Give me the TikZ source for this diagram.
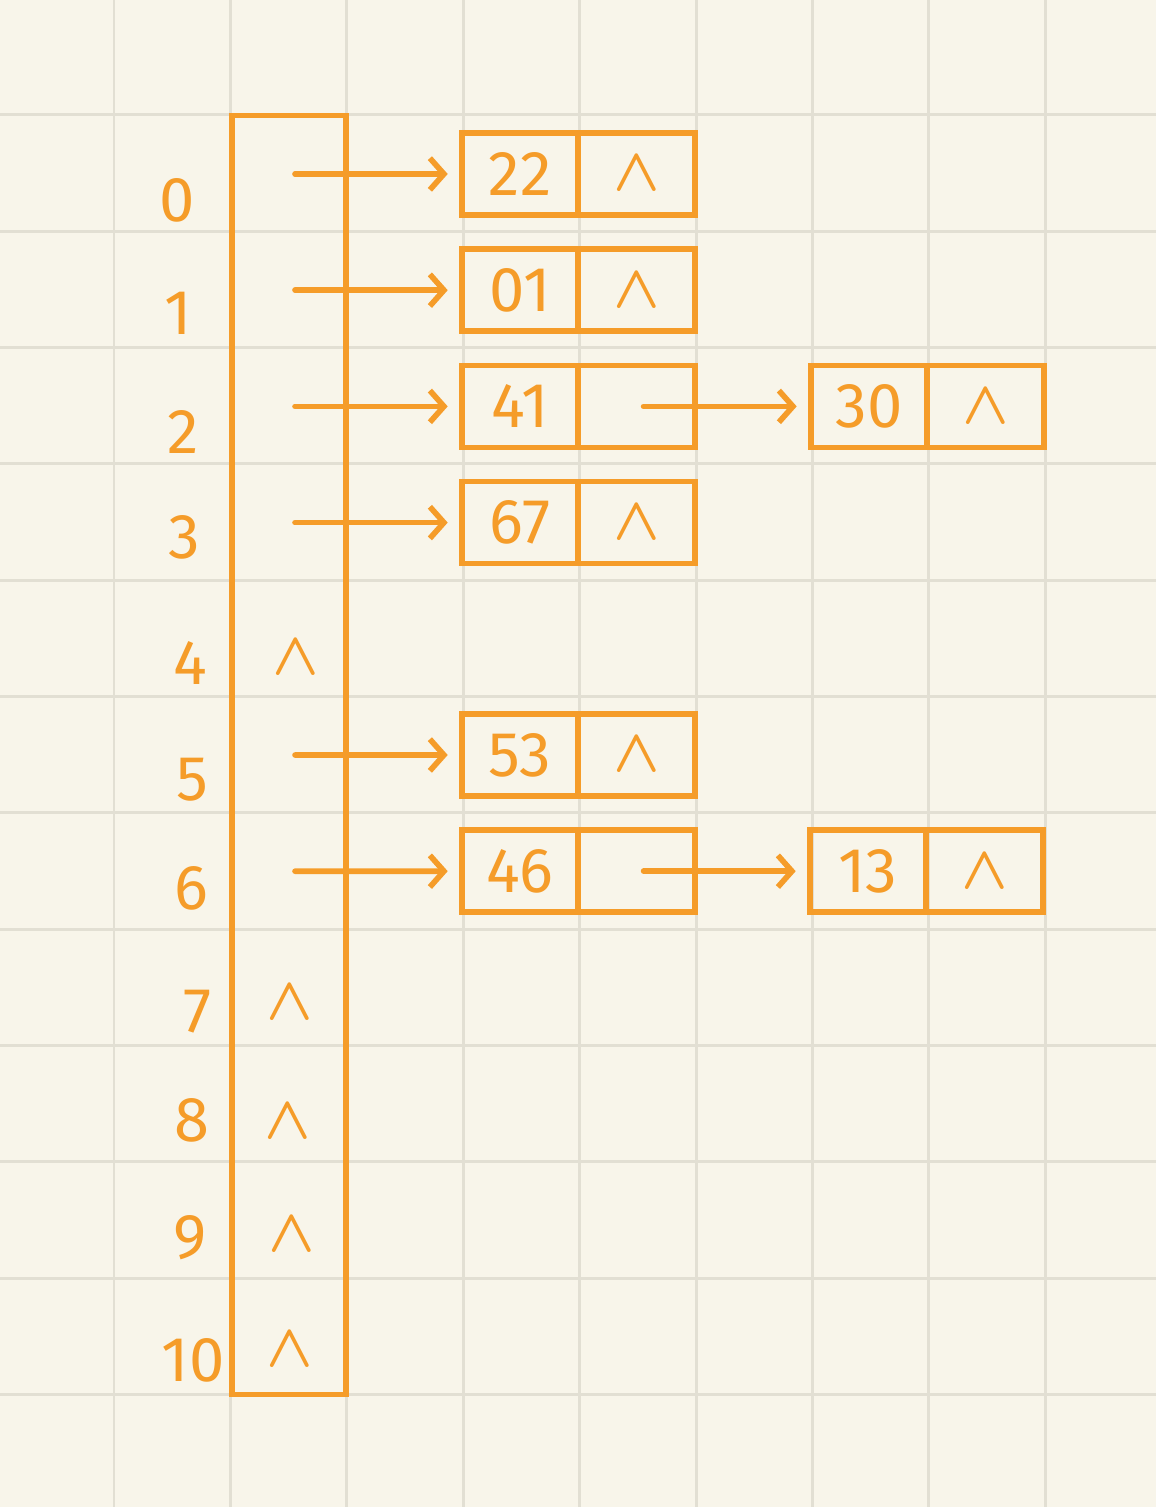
\documentclass[tikz,border=0pt]{standalone}
\usepackage{fontspec}
\usepackage{bm}
\setmainfont{Fira Sans}
\usetikzlibrary{positioning, arrows.meta}
\definecolor{hashOrange}{HTML}{F59C29}
\definecolor{paperBg}{HTML}{F8F5EA}
\definecolor{gridLine}{HTML}{E2DFD3}
\newcommand{\nil}{$\bm{\wedge}$}

\begin{document}
\begin{tikzpicture}[
  x=0.01cm, y=-0.01cm,
  cell/.style={draw=hashOrange, line width=1.6pt, inner sep=0pt, outer sep=0pt,
               minimum width=1.165cm, minimum height=0.82cm,
               text=hashOrange, font=\fontsize{18}{20}\selectfont},
  idx/.style={text=hashOrange, font=\fontsize{18}{20}\selectfont},
  nul/.style={text=hashOrange, font=\fontsize{19}{22}\selectfont},
  arr/.style={-{Straight Barb[length=4pt, width=9pt]}, line width=1.6pt,
              hashOrange, line cap=round, shorten >=0.14cm}
]
% paper and grid
\fill[paperBg] (0,0) rectangle (1156,1507);
\useasboundingbox (0,0) rectangle (1156,1507);
\foreach \gx in {114,230.4,...,1100}
  \draw[gridLine, line width=0.85pt] (\gx,0) -- (\gx,1507);
\foreach \gy in {115,231.3,...,1400}
  \draw[gridLine, line width=0.85pt] (0,\gy) -- (1156,\gy);

% hash table
\node[draw=hashOrange, line width=1.6pt, minimum width=1.14cm,
      minimum height=12.78cm] (table) at (289,755) {};
\foreach \i in {0,...,10}
  \coordinate (r\i) at (295,{174+116.2*\i});

\foreach \i/\lx/\ly in {0/177/200, 1/178/313, 2/183/432, 3/184/537,
    4/190/663, 5/192/780, 6/191/888, 7/198/1012, 8/192/1120,
    9/190/1238, 10/193/1360}
  \node[idx] (idx\i) at (\lx,\ly) {\i};

\foreach \i/\nx/\ny in {4/296/658, 7/290/1003, 8/288/1122,
    9/292/1235, 10/290/1350}
  \node[nul] (slot\i) at (\nx,\ny) {\nil};

% chain nodes
\node[cell] (key0) at (520,174) {22};
\node[cell, right=0pt of key0] (nxt0) {\nil};
\node[cell] (key1) at (520,290.2) {01};
\node[cell, right=0pt of key1] (nxt1) {\nil};
\node[cell] (key2) at (520,406.4) {41};
\node[cell, right=0pt of key2] (nxt2) {};
\node[cell] (key2b) at (869,406.4) {30};
\node[cell, right=0pt of key2b] (nxt2b) {\nil};
\node[cell] (key3) at (520,522.6) {67};
\node[cell, right=0pt of key3] (nxt3) {\nil};
\node[cell] (key5) at (520,755) {53};
\node[cell, right=0pt of key5] (nxt5) {\nil};
\node[cell] (key6) at (520,871.2) {46};
\node[cell, right=0pt of key6] (nxt6) {};
\node[cell] (key6b) at (868,871.2) {13};
\node[cell, right=0pt of key6b] (nxt6b) {\nil};

% pointers
\foreach \i in {0,1,2,3,5,6}
  \draw[arr] (r\i) -- (key\i);
\draw[arr, shorten <=0.07cm] (nxt2.center) -- (key2b);
\draw[arr, shorten <=0.07cm] (nxt6.center) -- (key6b);
\end{tikzpicture}
\end{document}
